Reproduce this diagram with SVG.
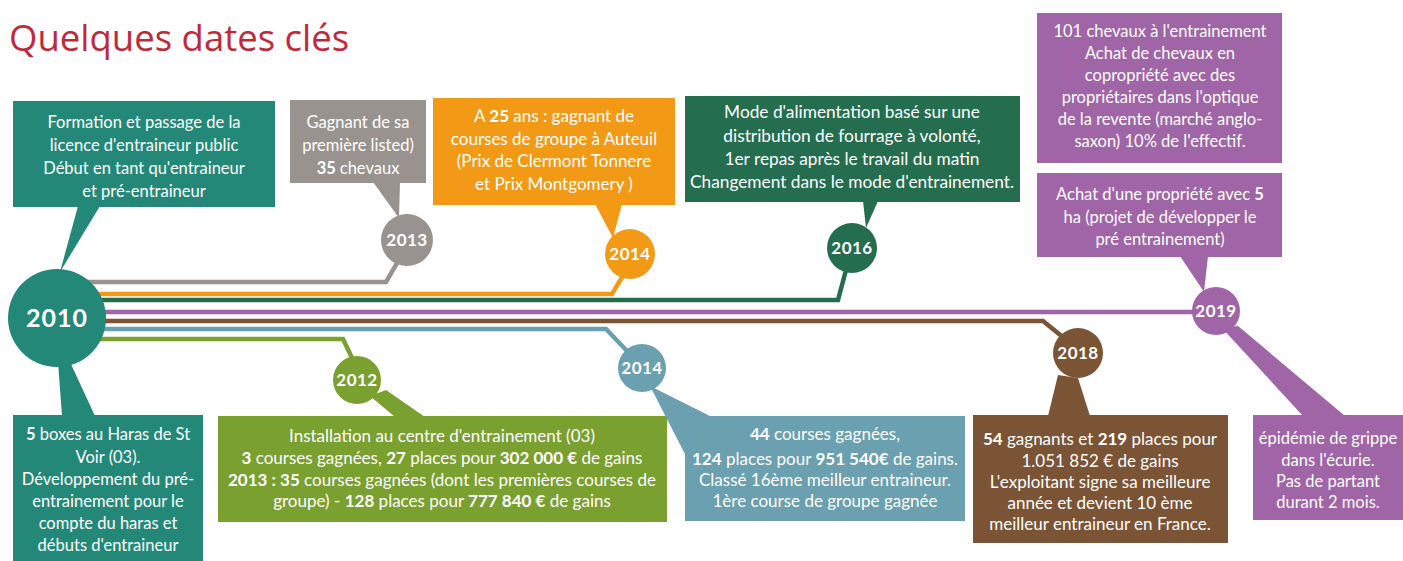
<svg xmlns="http://www.w3.org/2000/svg" width="1403" height="561" viewBox="0 0 1403 561">
<style>
.t{font-family:Lato,"Open Sans","Liberation Sans",sans-serif;font-size:16.5px;fill:#fff;text-anchor:middle}
.b{font-weight:bold}
.y{font-family:Lato,"Open Sans","Liberation Sans",sans-serif;font-size:17px;font-weight:bold;fill:#fff;text-anchor:middle;letter-spacing:0.5px}
.ln{fill:none;stroke-width:4.5;stroke-linejoin:miter}
.teal{fill:#238878}.gray{fill:#99938f}.orange{fill:#f29a16}.dgreen{fill:#256d4f}.purple{fill:#a065a7}.brown{fill:#7b5335}.blue{fill:#6aa0af}.olive{fill:#7aa030}
</style>
<rect width="1403" height="561" fill="#fff"/>
<text x="9" y="51" font-family="'Open Sans','Liberation Sans',sans-serif" font-size="36.5" fill="#be2a3c">Quelques dates clés</text>

<g id="connectors">
<path class="ln" stroke="#99938f" d="M60 282 H386 L400 258"/>
<path class="ln" stroke="#f29a16" d="M60 294 H612 L624 274"/>
<path class="ln" stroke="#256d4f" d="M60 300 H838 L846 270"/>
<path class="ln" stroke="#a065a7" d="M60 312 H1200"/>
<path class="ln" stroke="#7b5335" d="M60 321 H1043 L1064 338"/>
<path class="ln" stroke="#6aa0af" d="M60 329 H606 L628 352"/>
<path class="ln" stroke="#7aa030" d="M60 339 H343 L353 360"/>
</g>

<g id="n2010">
<polygon class="teal" points="78,206 100,206 60,272"/>
<polygon class="teal" points="58,362 70,362 95,416 62,416"/>
<circle class="teal" cx="57" cy="318" r="49"/>
<text class="y" x="57" y="327" style="font-size:25px;letter-spacing:1px">2010</text>
</g>

<g id="box2010top">
<rect class="teal" x="13" y="101" width="262" height="106"/>
<text class="t" x="144"><tspan x="144" y="128">Formation et passage de la</tspan><tspan x="144" y="151">licence d'entraineur public</tspan><tspan x="144" y="174">Début en tant qu'entraineur</tspan><tspan x="144" y="197">et pré-entraineur</tspan></text>
</g>

<g id="box2010bottom">
<rect class="teal" x="13" y="415" width="190" height="150"/>
<text class="t" x="108"><tspan x="108" y="440"><tspan class="b">5</tspan> boxes au Haras de St</tspan><tspan x="108" y="463">Voir (03).</tspan><tspan x="108" y="485">Développement du pré-</tspan><tspan x="108" y="507">entrainement pour le</tspan><tspan x="108" y="529">compte du haras et</tspan><tspan x="108" y="551">débuts d'entraineur</tspan></text>
</g>

<g id="n2013">
<rect class="gray" x="290" y="100" width="136" height="83"/>
<polygon class="gray" points="373,182 400,182 399,218"/>
<circle class="gray" cx="407" cy="240" r="26"/>
<text class="y" x="407" y="246">2013</text>
<text class="t" x="358"><tspan x="358" y="128">Gagnant de sa</tspan><tspan x="358" y="151">première listed)</tspan><tspan x="358" y="174" class="b">35 <tspan font-weight="normal">chevaux</tspan></tspan></text>
</g>

<g id="n2014a">
<rect class="orange" x="433" y="98" width="242" height="107"/>
<polygon class="orange" points="595,204 622,204 613,238"/>
<circle class="orange" cx="630" cy="254" r="25"/>
<text class="y" x="630" y="260">2014</text>
<text class="t" x="554" style="font-size:17px"><tspan x="554" y="122">A <tspan class="b">25</tspan> ans : gagnant de</tspan><tspan x="554" y="145">courses de groupe à Auteuil</tspan><tspan x="554" y="167">(Prix de Clermont Tonnere</tspan><tspan x="554" y="190">et Prix Montgomery )</tspan></text>
</g>

<g id="n2016">
<rect class="dgreen" x="685" y="96" width="335" height="106"/>
<polygon class="dgreen" points="863,201 878,201 866,228"/>
<circle class="dgreen" cx="852" cy="248" r="25"/>
<text class="y" x="852" y="254">2016</text>
<text class="t" x="852" style="font-size:17.3px"><tspan x="852" y="118">Mode d'alimentation basé sur une</tspan><tspan x="852" y="142">distribution de fourrage à volonté,</tspan><tspan x="852" y="165">1er repas après le travail du matin</tspan><tspan x="852" y="188">Changement dans le mode d'entrainement.</tspan></text>
</g>

<g id="n2019">
<rect class="purple" x="1037" y="13" width="245" height="150"/>
<rect class="purple" x="1037" y="173" width="245" height="84"/>
<polygon class="purple" points="1180,256 1208,256 1204,292"/>
<polygon class="purple" points="1222,328 1238,326 1345,416 1303,416"/>
<circle class="purple" cx="1216" cy="311" r="24"/>
<text class="y" x="1216" y="317">2019</text>
<text class="t" x="1160"><tspan x="1160" y="37">101 chevaux à l'entrainement</tspan><tspan x="1160" y="59">Achat de chevaux en</tspan><tspan x="1160" y="81">copropriété avec des</tspan><tspan x="1160" y="103">propriétaires dans l'optique</tspan><tspan x="1160" y="125">de la revente (marché anglo-</tspan><tspan x="1160" y="147">saxon) 10% de l'effectif.</tspan></text>
<text class="t" x="1160"><tspan x="1160" y="200">Achat d'une propriété avec <tspan class="b">5</tspan></tspan><tspan x="1160" y="223">ha (projet de développer le</tspan><tspan x="1160" y="245">pré entrainement)</tspan></text>
<rect class="purple" x="1253" y="415" width="150" height="105"/>
<text class="t" x="1328"><tspan x="1328" y="444">épidémie de grippe</tspan><tspan x="1328" y="466">dans l'écurie.</tspan><tspan x="1328" y="487">Pas de partant</tspan><tspan x="1328" y="508">durant 2 mois.</tspan></text>
</g>

<g id="n2012">
<polygon class="olive" points="370,396 386,390 425,417 395,417"/>
<circle class="olive" cx="357" cy="380" r="24"/>
<text class="y" x="357" y="386">2012</text>
<rect class="olive" x="218" y="416" width="449" height="106"/>
<text class="t" x="442" style="font-size:17px"><tspan x="442" y="442">Installation au centre d'entrainement (03)</tspan><tspan x="442" y="464"><tspan class="b">3</tspan> courses gagnées, <tspan class="b">27</tspan> places pour <tspan class="b">302 000 €</tspan> de gains</tspan><tspan x="442" y="486"><tspan class="b">2013 : 35</tspan> courses gagnées (dont les premières courses de</tspan><tspan x="442" y="507">groupe) - <tspan class="b">128</tspan> places pour <tspan class="b">777 840 €</tspan> de gains</tspan></text>
</g>

<g id="n2014b">
<polygon class="blue" points="650,386 712,417 686,456"/>
<circle class="blue" cx="642" cy="368" r="24"/>
<text class="y" x="642" y="374">2014</text>
<rect class="blue" x="685" y="416" width="280" height="105"/>
<text class="t" x="825" style="font-size:17px"><tspan x="825" y="440"><tspan class="b">44</tspan> courses gagnées,</tspan><tspan x="825" y="465"><tspan class="b">124</tspan> places pour <tspan class="b">951 540€</tspan> de gains.</tspan><tspan x="825" y="486">Classé 16ème meilleur entraineur.</tspan><tspan x="825" y="507">1ère course de groupe gagnée</tspan></text>
</g>

<g id="n2018">
<polygon class="brown" points="1058,375 1078,378 1090,416 1048,416"/>
<circle class="brown" cx="1078" cy="353" r="25"/>
<text class="y" x="1078" y="359">2018</text>
<rect class="brown" x="973" y="415" width="255" height="128"/>
<text class="t" x="1100" style="font-size:17px"><tspan x="1100" y="445"><tspan class="b">54</tspan> gagnants et <tspan class="b">219</tspan> places pour</tspan><tspan x="1100" y="467">1.051 852 € de gains</tspan><tspan x="1100" y="488">L'exploitant signe sa meilleure</tspan><tspan x="1100" y="509">année et devient 10 ème</tspan><tspan x="1100" y="530">meilleur entraineur en France.</tspan></text>
</g>
</svg>
